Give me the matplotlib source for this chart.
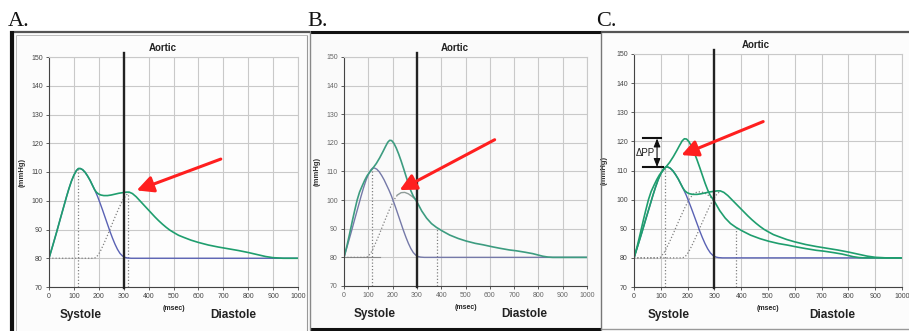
import numpy as np
import matplotlib
matplotlib.use("Agg")
import matplotlib.pyplot as plt
from matplotlib.lines import Line2D
from matplotlib.patches import Rectangle

# ---- data (msec, mmHg) ----
# forward (incident) wave, shared by all panels
fwd_t = [0, 15, 30, 45, 60, 70, 80, 90, 100, 110, 118, 126, 135, 145, 155, 165,
         175, 185, 195, 205, 215, 225, 235, 245, 255, 265, 275, 285, 295, 305,
         315, 330, 1000]
fwd_p = [80, 84.4, 88.9, 93.6, 98.2, 101.3, 104.2, 106.8, 108.9, 110.5, 111.2,
         111.2, 110.8, 109.9, 108.6, 107.1, 105.3, 103.5, 101.5, 99.2, 96.8,
         94.3, 91.8, 89.3, 87, 84.9, 83.1, 81.7, 80.8, 80.3, 80.1, 80, 80]

# late reflected wave (normal aorta)
late_refl_t = [0, 180, 190, 205, 220, 235, 250, 265, 280, 295, 310, 320]
late_refl_p = [80, 80, 80.3, 82.2, 85, 88, 91.2, 94.3, 97.3, 100, 102, 102.7]

# early reflected wave (stiff aorta)
early_refl_t = [0, 90, 100, 115, 130, 145, 160, 175, 190, 205, 220, 235, 250,
                265, 280, 295]
early_refl_p = [80, 80, 80.3, 82.2, 85, 88, 91.2, 94.3, 97.3, 100, 101.8, 102.6,
                102.7, 102.2, 101.3, 100.2]

# summed aortic pressure with late reflection
late_t = [0, 15, 30, 45, 60, 70, 80, 90, 100, 110, 118, 126, 135, 145, 155, 165,
          175, 183, 190, 198, 208, 220, 235, 250, 265, 280, 295, 310, 322, 335,
          350, 365, 380, 395, 410, 425, 440, 455, 470, 485, 500, 520, 540, 570,
          600, 640, 680, 720, 760, 800, 840, 870, 900, 940, 1000]
late_p = [80, 84.4, 88.9, 93.6, 98.2, 101.3, 104.2, 106.8, 108.9, 110.5, 111.2,
          111.2, 110.8, 109.9, 108.6, 107.1, 105.3, 103.9, 103, 102.4, 102,
          101.8, 101.8, 102, 102.3, 102.6, 102.8, 103, 103, 102.5, 101.4, 100,
          98.6, 97.2, 95.8, 94.4, 93.1, 91.9, 90.8, 89.8, 89, 88, 87.3, 86.3,
          85.5, 84.6, 83.9, 83.3, 82.7, 82, 81.2, 80.6, 80.2, 80, 80]

# summed aortic pressure with early reflection
early_t = [0, 12, 23, 35, 44, 54, 64, 75, 85, 95, 106, 120, 133, 147, 160, 170,
           180, 188, 196, 205, 215, 225, 235, 245, 255, 265, 275, 285, 295, 305,
           320, 340, 360, 380, 405, 435, 470, 503, 540, 572, 610, 640, 680, 709,
           745, 777, 800, 818, 840, 859, 1000]
early_p = [80, 84, 88.2, 93, 96.4, 100, 102.8, 105, 106.9, 108.5, 109.8, 111.3,
           112.8, 114.8, 116.9, 118.6, 120.2, 120.9, 120.8, 119.9, 118.2, 116.1,
           113.7, 111.1, 108.4, 105.7, 103.3, 101.4, 100.1, 98.6, 96.2, 93.7,
           91.8, 90.5, 89.2, 87.8, 86.6, 85.7, 84.9, 84.4, 83.7, 83.2, 82.6,
           82.3, 81.8, 81.3, 80.8, 80.4, 80.1, 80, 80]

x_ticks = list(range(0, 1001, 100))
y_ticks = list(range(70, 151, 10))
panel_labels = ["A.", "B.", "C."]

W, H = 909, 331
fig = plt.figure(figsize=(W / 100, H / 100), dpi=100)
fig.patch.set_facecolor("white")


def fx(x):
    return x / W


def fy(y):
    return 1 - y / H


def fline(x0, y0, x1, y1, color, lw):
    fig.add_artist(Line2D([fx(x0), fx(x1)], [fy(y0), fy(y1)], color=color,
                          lw=lw, transform=fig.transFigure, solid_capstyle="butt"))


def fbox(x0, y0, x1, y1, color):
    fig.add_artist(Rectangle((fx(x0), fy(y1)), (x1 - x0) / W, (y1 - y0) / H,
                             transform=fig.transFigure, facecolor=color,
                             edgecolor="none", zorder=-5))


# panel frames (pixel coords)
fbox(10, 31, 310, 331, "#fcfcfc")
fbox(310, 31, 601, 330, "#fafafa")
fbox(601, 31, 909, 330, "#fcfcfc")
fline(10, 32, 310, 32, "#555555", 1.6)
fline(12, 31, 12, 331, "#111111", 3.0)
fline(16, 35, 16, 331, "#bbbbbb", 0.7)
fline(16, 35, 307, 35, "#bbbbbb", 0.7)
fline(307, 35, 307, 331, "#999999", 0.8)
fline(310, 32, 601, 32, "#111111", 2.2)
fline(310, 329, 601, 329, "#111111", 2.2)
fline(310, 32, 310, 330, "#888888", 1.0)
fline(601, 32, 601, 330, "#777777", 1.0)
fline(601, 32, 909, 32, "#555555", 1.6)
fline(601, 329, 909, 329, "#999999", 1.0)

for lab, xpx in zip(panel_labels, [8, 307, 596]):
    fig.text(fx(xpx), fy(26), lab, fontsize=16, family="Liberation Serif",
             ha="left", va="baseline", color="#111111")

# axes rectangles in pixels: x0, x1, y(150), y(70)
boxes = [(49, 298, 57, 287), (344, 587, 57, 286), (634, 902, 54, 287)]
axes = []
for (x0, x1, ytop, ybot) in boxes:
    ax = fig.add_axes([fx(x0), fy(ybot), (x1 - x0) / W, (ybot - ytop) / H])
    axes.append(ax)

GREEN = "#1f9e6e"
BLUE = "#5a62b4"
RED = "#ff1f1f"
DOT = dict(color="#808080", lw=0.9, ls=(0, (1, 1.6)))


def setup(ax, faded=False):
    ax.set_facecolor("#fdfdfd" if not faded else "#fafafa")
    ax.set_xlim(0, 1000)
    ax.set_ylim(70, 150)
    ax.set_xticks(x_ticks)
    ax.set_yticks(y_ticks)
    ax.grid(True, color="#c9c9c9", lw=0.8)
    ax.set_axisbelow(True)
    tc = "#444444" if not faded else "#666666"
    ax.tick_params(labelsize=5, length=2.5, width=0.6, color="#444444",
                   labelcolor=tc, pad=2)
    for lab in ax.get_xticklabels() + ax.get_yticklabels():
        lab.set_family("Liberation Sans")
    for s in ["left", "bottom"]:
        ax.spines[s].set_color("#444444")
        ax.spines[s].set_linewidth(0.8)
    for s in ["top", "right"]:
        ax.spines[s].set_color("#c9c9c9")
        ax.spines[s].set_linewidth(0.8)
    ax.set_ylabel("(mmHg)", fontsize=5.5, fontweight="bold", family="Liberation Sans",
                  color="#333333")
    ax.yaxis.set_label_coords(-0.095, 0.5)
    kw = dict(family="Liberation Sans", fontweight="bold", color="#222222",
              clip_on=False, ha="center", va="center")
    ax.text(455, 153, "Aortic", fontsize=7, **kw)
    ax.text(500, 62.5, "(msec)", fontsize=5, **kw)
    ax.text(128, 60.3, "Systole", fontsize=8.5, **kw)
    ax.text(740, 60.3, "Diastole", fontsize=8.5, **kw)
    ax.plot([300, 300], [69.5, 151.5], color="#222222", lw=1.7, clip_on=False,
            zorder=5)


def red_arrow(ax, tail, head):
    ax.annotate("", xy=head, xytext=tail,
                arrowprops=dict(arrowstyle="-|>,head_length=1.0,head_width=0.5",
                                color=RED, lw=2.2, shrinkA=0, shrinkB=0),
                zorder=6)


# ---- A ----
ax = axes[0]
setup(ax)
ax.plot(late_refl_t, late_refl_p, **DOT)
ax.plot([117, 117], [70, 111.2], **DOT)
ax.plot([318, 318], [70, 102.9], **DOT)
ax.plot(fwd_t, fwd_p, color=BLUE, lw=1.0)
ax.plot(late_t, late_p, color=GREEN, lw=1.2)
red_arrow(ax, (690, 114.5), (352, 103.6))

# ---- B ----
ax = axes[1]
setup(ax, faded=True)
ax.plot([0, 147], [80, 80], color="#8a8a8a", lw=0.8)
ax.plot(early_refl_t[:11], early_refl_p[:11], **DOT)
ax.plot(early_refl_t[10:], early_refl_p[10:], color="#8f9c98", lw=1.0)
ax.plot([117, 117], [70, 111.2], **DOT)
ax.plot([382, 382], [70, 90.4], **DOT)
ax.plot(fwd_t, fwd_p, color="#7579a8", lw=1.0)
ax.plot(early_t, early_p, color="#3d9c80", lw=1.2)
red_arrow(ax, (620, 121.1), (229, 103.5))

# ---- C ----
ax = axes[2]
setup(ax)
ax.yaxis.set_label_coords(-0.097, 0.5)
ax.plot(late_refl_t, late_refl_p, **DOT)
ax.plot(early_refl_t, early_refl_p, **DOT)
ax.plot([117, 117], [70, 111.2], **DOT)
ax.plot([382, 382], [70, 90.4], **DOT)
ax.plot(fwd_t, fwd_p, color=BLUE, lw=1.0)
ax.plot(late_t, late_p, color=GREEN, lw=1.2)
ax.plot(early_t, early_p, color=GREEN, lw=1.2)
# delta pulse pressure bracket
ax.plot([34, 100], [121, 121], color="#111111", lw=1.5, clip_on=False, zorder=6)
ax.plot([34, 110], [111.2, 111.2], color="#111111", lw=1.5, clip_on=False, zorder=6)
ax.annotate("", xy=(86, 121), xytext=(86, 111.2),
            arrowprops=dict(arrowstyle="<|-|>,head_length=0.5,head_width=0.2",
                            color="#111111", lw=0.8, shrinkA=0, shrinkB=0), zorder=6)
ax.text(78, 116, "\u0394PP", fontsize=7, family="Liberation Sans", ha="right",
        va="center", color="#222222")
red_arrow(ax, (482, 126.8), (177, 115.3))

fig.savefig("out.png", dpi=100, facecolor="white")
